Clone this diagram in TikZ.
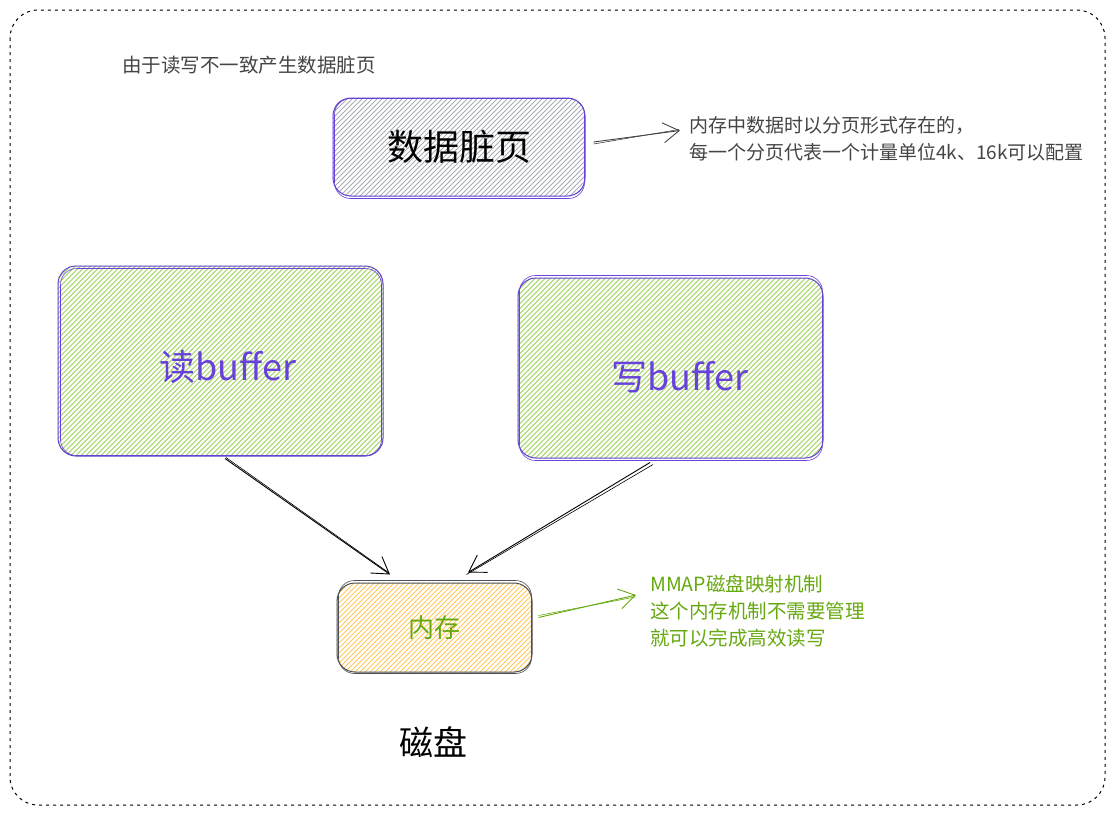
\documentclass[tikz,border=0pt]{standalone}
\usepackage{fontspec}
\setmainfont{Noto Sans CJK SC}
\usetikzlibrary{arrows.meta,calc,backgrounds}
\definecolor{exviolet}{HTML}{6741D9}
\definecolor{hgray}{HTML}{A8ADB2}
\definecolor{hgreen}{HTML}{9CD35A}
\definecolor{horange}{HTML}{FFC85C}
\definecolor{tgreen}{HTML}{66A80F}
\definecolor{tgray}{HTML}{444444}
\definecolor{bgray}{HTML}{495057}
\newcommand\hatchfill[2]{%
  \begin{pgfonlayer}{background}
  \begin{scope}
    \clip[rounded corners=18pt] (#1.north west) rectangle (#1.south east);
    \foreach \i in {-280,-275,...,280}
      \draw[#2, line width=0.8pt] ([xshift=\i pt]#1.center) ++(-160,160) -- ++(320,-320);
  \end{scope}
  \end{pgfonlayer}}
\begin{document}
\begin{tikzpicture}[x=1pt,y=-1pt,
  box/.style={draw=exviolet, line width=1pt, rounded corners=18pt, inner sep=0pt},
  sketch/.style={line width=0.6pt, rounded corners=16pt},
  arr/.style={line width=0.9pt, -{Straight Barb[length=16pt,width=20pt,line width=0.9pt]}},
  sec/.style={line width=0.6pt}
]
\useasboundingbox (0,0) rectangle (1115,815);
% outer frame
\draw[line width=1pt, dash pattern=on 3pt off 4pt, rounded corners=28pt] (10,10) rectangle (1105,805);

% title
\node[anchor=west, text=tgray, font=\fontsize{19.5}{24}\selectfont, inner sep=0pt] (title) at (122,65) {由于读写不一致产生数据脏页};

% dirty page box
\node[box, minimum width=252pt, minimum height=98pt, font=\fontsize{36}{40}\selectfont] (dirty) at (459,147) {数据脏页};
\hatchfill{dirty}{hgray}
\draw[exviolet, sketch] ([shift={(2,1)}]dirty.north west) rectangle ([shift={(-1,2)}]dirty.south east);

% note
\node[anchor=west, align=left, text=tgray, font=\fontsize{19}{27}\selectfont, inner sep=0pt] (note) at (689,138.5)
  {内存中数据时以分页形式存在的，\\每一个分页代表一个计量单位4k、16k可以配置};
\draw[arr, tgray] ([xshift=8pt,yshift=5pt]dirty.east) -- ([xshift=-9pt,yshift=8pt]note.west);
\draw[sec, tgray] ([xshift=8pt,yshift=3pt]dirty.east) -- ([xshift=-10pt,yshift=9pt]note.west);

% read buffer
\node[box, minimum width=325pt, minimum height=190pt,
  label={[text=exviolet, font=\fontsize{36}{40}\selectfont, xshift=7.5pt, yshift=-6pt]center:读buffer}] (rb) at (220.5,361) {};
\hatchfill{rb}{hgreen}
\draw[exviolet, sketch] ([shift={(3,3)}]rb.north west) rectangle ([shift={(-2,-1)}]rb.south east);

% write buffer
\node[box, minimum width=305pt, minimum height=180pt,
  label={[text=exviolet, font=\fontsize{36}{40}\selectfont, xshift=9.5pt, yshift=-9pt]center:写buffer}] (wb) at (670.5,368) {};
\hatchfill{wb}{hgreen}
\draw[exviolet, sketch] ([shift={(2,-2)}]wb.north west) rectangle ([shift={(-1,2)}]wb.south east);

% memory
\node[box, draw=bgray, minimum width=195pt, minimum height=89pt, text=tgreen, font=\fontsize{26}{30}\selectfont] (mem) at (434.5,627.5) {内存};
\hatchfill{mem}{horange}
\draw[bgray, sketch] ([shift={(2,-2)}]mem.north west) rectangle ([shift={(-1,1)}]mem.south east);

% arrows to memory
\draw[arr] ([xshift=4.5pt,yshift=-2pt]rb.south) -- ([xshift=-44.5pt,yshift=8pt]mem.north);
\draw[sec] ([xshift=5.5pt,yshift=-1pt]rb.south) -- ([xshift=-46pt,yshift=10pt]mem.north);
\draw[arr] ([xshift=-20.5pt,yshift=-4pt]wb.south) -- ([xshift=33.5pt,yshift=10pt]mem.north);
\draw[sec] ([xshift=-17.5pt,yshift=-6pt]wb.south) -- ([xshift=32pt,yshift=8pt]mem.north);

% green note
\node[anchor=west, align=left, text=tgreen, font=\fontsize{19.5}{27}\selectfont, inner sep=0pt] (gnote) at (650,611)
  {MMAP磁盘映射机制\\这个内存机制不需要管理\\就可以完成高效读写};
\draw[arr, tgreen] ([xshift=6pt,yshift=10pt]mem.east) -- ([xshift=-14pt,yshift=16pt]gnote.west);
\draw[sec, tgreen] ([xshift=6pt,yshift=12pt]mem.east) -- ([xshift=-15pt,yshift=14pt]gnote.west);

% disk label
\node[font=\fontsize{34}{40}\selectfont, inner sep=0pt] (disk) at (433,742) {磁盘};
\end{tikzpicture}
\end{document}
